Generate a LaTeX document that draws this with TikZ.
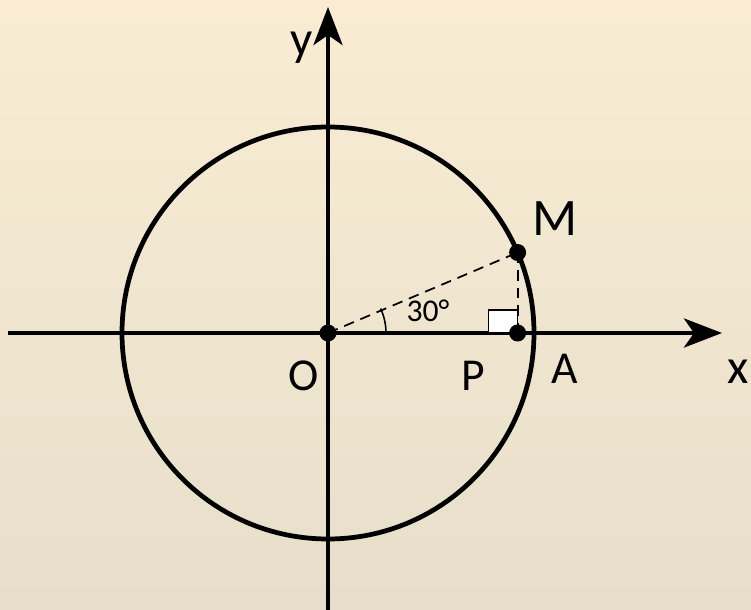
\documentclass[tikz,border=0pt]{standalone}
\usepackage{tikz}
\usetikzlibrary{arrows.meta,calc}
\usepackage{fontspec}
\setmainfont{Carlito}
\usepackage{xcolor}
\definecolor{bgtop}{HTML}{F9ECD3}
\definecolor{bgbot}{HTML}{E7DFCB}

\begin{document}
\begin{tikzpicture}[every node/.style={font=\fontsize{26}{30}\selectfont},
    axis/.style={line width=2.7pt,-{Stealth[length=0.76cm,width=0.58cm,inset=0.2cm]}},
    proj/.style={line width=1pt,dash pattern=on 6pt off 4pt},
    dot/.style={circle,fill=black,inner sep=0pt,minimum size=0.34cm}]
    % background
    \shade[top color=bgtop,bottom color=bgbot] (-6.56,-5.52) rectangle (8.46,6.66);
    \useasboundingbox (-6.56,-5.52) rectangle (8.46,6.66);
    % points
    \coordinate (O) at (0,0);
    \coordinate (M) at (23:4.12);
    \coordinate (P) at (M |- O);
    \coordinate (A) at (4.12,0);
    \coordinate (xs) at (-6.4,0);
    \coordinate (xe) at (7.88,0);
    \coordinate (ys) at (0,-5.55);
    \coordinate (ye) at (0,6.52);
    % unit circle and axes
    \draw[line width=2.7pt] (O) circle (4.12);
    \draw[axis] (xs) -- (xe);
    \draw[axis] (ys) -- (ye);
    % projection of M
    \draw[proj] (O) -- (M);
    \draw[proj] (M) -- (P);
    \draw[line width=0.9pt] (O) ++(1.16,0) arc (0:25:1.16);
    \filldraw[fill=white,line width=0.7pt] ($(P)+(-0.58,0)$) rectangle ($(P)+(0,0.46)$);
    \node[dot] (o) at (O) {};
    \node[dot] (m) at (M) {};
    \node[dot] (p) at (P) {};
    % labels
    \node[anchor=base,font=\fontsize{30}{34}\selectfont] at (4.54,1.94) {M};
    \node[anchor=base] at (-0.48,-1.14) {O};
    \node[anchor=base] at (2.9,-1.14) {P};
    \node[anchor=base] at (4.74,-1.0) {A};
    \node[anchor=base,font=\fontsize{28}{32}\selectfont] at (8.2,-1.0) {x};
    \node[anchor=base,font=\fontsize{28}{32}\selectfont] at (-0.52,5.54) {y};
    \node[anchor=base,font=\fontsize{18}{22}\selectfont] at (2.0,0.24) {30°};
  \end{tikzpicture}
\end{document}
